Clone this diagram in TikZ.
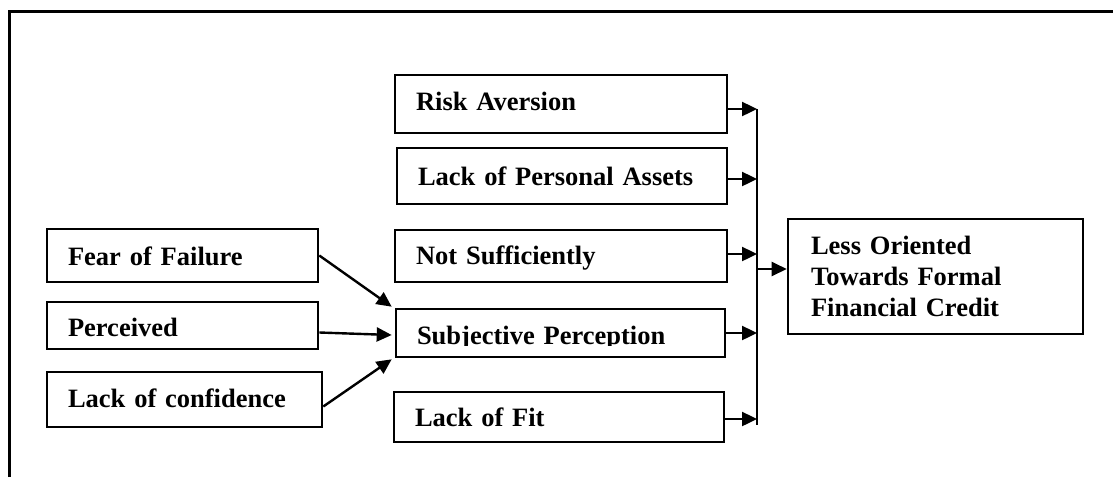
\documentclass[tikz,border=0pt]{standalone}
\usepackage{fontspec}
\setmainfont{Liberation Serif}
\usetikzlibrary{arrows.meta}
\begin{document}
\begin{tikzpicture}[x=1pt,y=-1pt,
  box/.style={draw, line width=2.6pt, inner xsep=21pt, inner ysep=0pt, align=left,
    font=\bfseries\fontsize{26.5}{31}\selectfont, text depth=0pt},
  finalbox/.style={draw, line width=2.6pt, inner xsep=23pt, inner ysep=0pt, align=left,
    font=\bfseries\fontsize{26.5}{31}\selectfont},
  arr/.style={line width=2.4pt, -{Triangle[length=15pt,width=14pt]}},
  busline/.style={line width=2.6pt},
  frameline/.style={line width=3pt}]
\useasboundingbox (0,0) rectangle (1113,477);
\draw[frameline] (9,477) -- (9,11) -- (1113,11);

% middle column
\node[box, text width=290pt, minimum height=58pt, text height=13.4pt] (risk) at (561,104) {Risk Aversion};
\node[box, text width=288pt, minimum height=56pt, text height=18pt] (lpa) at (562,176) {Lack of Personal Assets};
\node[box, text width=290pt, minimum height=52pt, text height=16pt] (notsuf) at (561,256) {Not Sufficiently};
\node[box, text width=287pt, minimum height=48pt, text height=23pt] (subj) at (560.5,333) {Subjective Perception};
\node[box, text width=288pt, minimum height=50pt, text height=18pt] (fit) at (559,417) {Lack of Fit};
% descenders of "Subjective Perception" are cut off in the original
\fill[white] ([xshift=2.8pt,yshift=2.8pt]subj.south west) rectangle ([xshift=-2.8pt,yshift=12.3pt]subj.south east);

% left column
\node[box, text width=229pt, minimum height=53pt, text height=19pt] (fear) at (182.5,255.5) {Fear of Failure};
\node[box, text width=229pt, minimum height=47pt, text height=22pt] (perc) at (182.5,325.5) {Perceived};
\node[box, text width=233pt, minimum height=55pt, text height=16pt] (conf) at (184.5,399.5) {Lack of confidence};

% result
\node[finalbox, text width=249pt, minimum height=115pt] (final) at (935.5,276.5) {Less Oriented\\Towards Formal\\Financial Credit};

% bus
\coordinate (bustop) at (757,109);
\coordinate (busbot) at (757,425);
\draw[busline] (bustop) -- (busbot);

\coordinate (r1) at ([yshift=-5pt]risk.east);
\coordinate (r2) at ([yshift=-3pt]lpa.east);
\coordinate (r3) at ([yshift=2pt]notsuf.east);
\coordinate (r4) at (subj.east);
\coordinate (r5) at ([yshift=-2pt]fit.east);
\draw[arr] (r1) -- (r1 -| bustop);
\draw[arr] (r2) -- (r2 -| bustop);
\draw[arr] (r3) -- (r3 -| bustop);
\draw[arr] (r4) -- (r4 -| bustop);
\draw[arr] (r5) -- (r5 -| bustop);

\coordinate (o1) at ([yshift=7.5pt]final.west);
\draw[arr] (o1 -| bustop) -- (o1);

% left arrows
\draw[arr] (fear.east) -- ([xshift=-3pt,yshift=1pt]subj.north west);
\draw[arr] ([yshift=-7pt]perc.east) -- ([xshift=-3pt,yshift=-2pt]subj.west);
\draw[arr] ([yshift=-7pt]conf.east) -- ([xshift=-3pt,yshift=-1pt]subj.south west);
\end{tikzpicture}
\end{document}
